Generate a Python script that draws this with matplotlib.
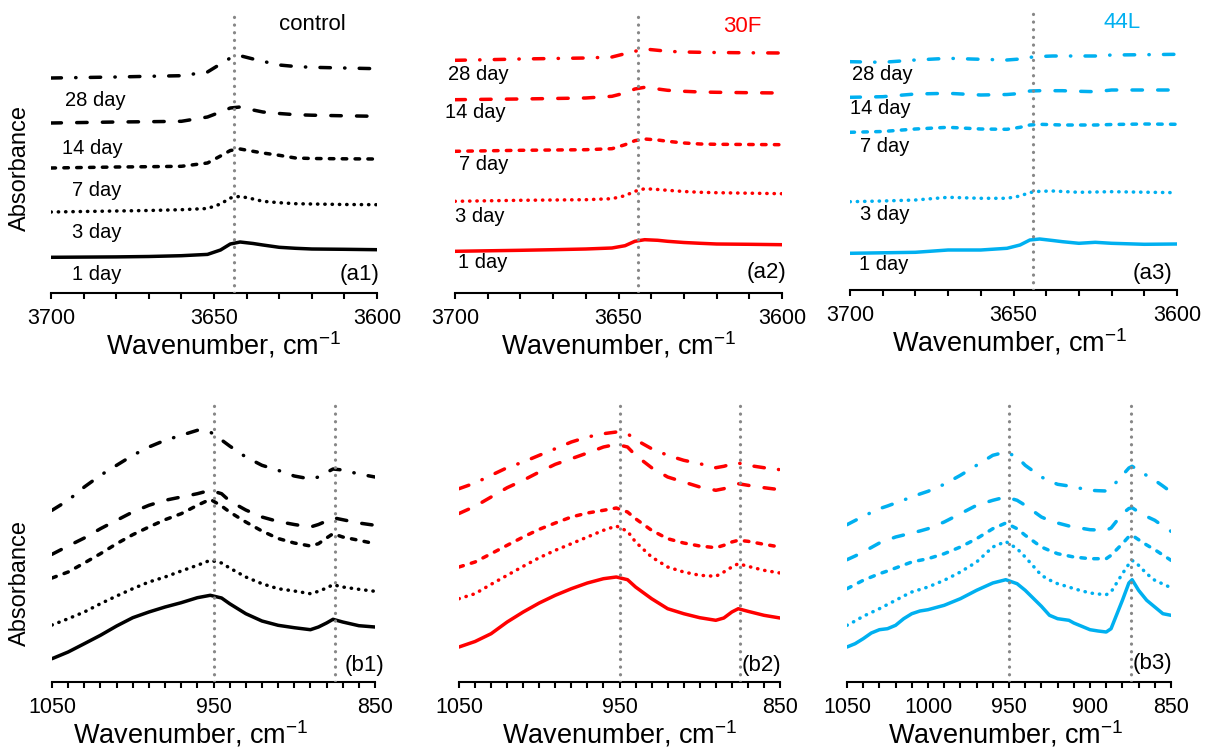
import numpy as np
import matplotlib
matplotlib.use("Agg")
import matplotlib.pyplot as plt

plt.rcParams['font.family'] = ['Liberation Sans', 'DejaVu Sans']
plt.rcParams['mathtext.fontset'] = 'custom'
plt.rcParams['mathtext.rm'] = 'Liberation Sans'

# Wavenumber grids (cm-1)
wn_oh = [3700, 3690, 3680, 3670, 3660, 3652, 3648, 3645, 3642, 3638,
         3635, 3630, 3625, 3620, 3610, 3600]
wn_si = [1050, 1040, 1030, 1020, 1010, 1000, 990, 980, 970, 960, 952, 945,
         940, 930, 920, 910, 900, 890, 885, 880, 876, 870, 860, 850]
wn_si_44l = [1050, 1045, 1040, 1035, 1030, 1025, 1020, 1015, 1010, 1005,
             1000, 990, 980, 970, 960, 952, 945, 940, 930, 925, 920, 913,
             910, 900, 895, 890, 887, 880, 876, 874, 870, 865, 860, 855, 850]

days = ['1 day', '3 day', '7 day', '14 day', '28 day']
samples = ['control', '30F', '44L']

# OH region, offset absorbance (arbitrary units)
oh_control = [
    [35.7, 35.9, 36.1, 36.5, 37.3, 38.6, 43, 49, 51, 49.5, 48, 45.7, 44.7, 44, 43.7, 43.3],
    [81, 81.5, 82, 82.5, 83.3, 84.5, 89, 95, 96.7, 94, 91.7, 90.3, 89.3, 89, 88.5, 88.3],
    [125, 125.5, 126, 126.3, 126.7, 130, 137, 142.5, 144, 141.7, 140, 137.7, 135, 134.5, 134.2, 134],
    [170, 170.5, 171, 171.3, 171.7, 176, 181, 185, 186, 183, 181, 179.5, 178.3, 177.8, 177.2, 176.7],
    [215, 215.5, 216, 216.7, 217.3, 221, 229, 235, 237.3, 234, 231.7, 228, 226.5, 225.7, 225, 224.3],
]
oh_30f = [
    [41.7, 42.2, 42.7, 43.3, 44, 45, 47.3, 51.7, 53.3, 52.7, 51.7, 50.5, 49.7, 49, 48.7, 48.3],
    [91.7, 92.2, 92.7, 93, 93.3, 94.3, 97.3, 101.7, 104.3, 103.5, 102.7, 101.5, 100.7, 100.3, 99.8, 99.3],
    [141.7, 142.2, 142.7, 143, 143.3, 144.3, 148.3, 152.3, 154, 153, 151.7, 150, 149, 148.7, 148.5, 148.3],
    [193.3, 193.7, 194, 194.5, 195, 196.7, 200, 204, 205.7, 204, 202.7, 201.7, 201, 200.7, 200.3, 200],
    [232.7, 233.3, 234, 234.5, 235, 236, 239.3, 241.7, 244, 242.7, 241.7, 241, 240.7, 240.5, 240.2, 240],
]
oh_44l = [
    [36.7, 37.2, 37.7, 40, 40, 41.7, 45, 50, 51, 49.5, 48.3, 46.7, 47.7, 46.7, 45.7, 46],
    [88.3, 89, 90, 92.7, 91.7, 91.7, 94, 97.5, 98.7, 99, 98.5, 97.7, 98, 98.3, 97.8, 97.3],
    [157.7, 158.5, 161, 162.7, 161, 160.7, 162.7, 165, 165.7, 165.3, 165, 165, 165, 165.5, 166, 165.7],
    [192.7, 193.3, 196, 196.7, 195, 195.5, 196.5, 199, 199.3, 199.3, 199.3, 198.7, 198.3, 200, 200, 200],
    [228.3, 227.7, 230, 231.7, 230.7, 230, 231, 232.7, 233.5, 234, 234, 234, 234, 235, 235.3, 235.7],
]

# Si-O region, offset absorbance (arbitrary units)
si_control = [
    [23.3, 30, 38.3, 46.7, 56, 64.3, 70, 75, 79.3, 84.3, 86.7, 84, 78.3, 68.3, 61, 56.7, 54.3, 52.3, 55, 59, 62.7, 60, 56.3, 55],
    [57, 63.3, 70, 78.3, 86, 93.3, 100, 105, 111, 116.7, 121.7, 119, 114, 105, 98.3, 93.3, 91, 88.3, 90.7, 94, 97.3, 95, 92.7, 90.7],
    [104, 110, 119, 128.3, 138.3, 147.3, 155, 162.3, 168.3, 176.7, 182.7, 176, 170, 160, 151, 143.5, 139, 136, 138.3, 144, 148.3, 145, 141.7, 138.3],
    [127.7, 136, 144, 153.3, 161.7, 170, 176.7, 181.7, 185, 188.3, 191.7, 188.3, 181, 172, 165, 160.5, 157.5, 155, 157.5, 161, 164.3, 162.3, 159, 156.7],
    [171.7, 181.7, 195, 206.7, 216.7, 226.7, 235, 241.7, 246.7, 251.7, 250, 242, 236, 225, 216.7, 211.7, 206, 203, 205, 209.5, 213, 212, 208, 205],
]
si_30f = [
    [35, 40.5, 48.3, 60, 70, 79, 86.7, 93.3, 99, 103.3, 105, 102.3, 95, 83.3, 73.3, 68.3, 64.3, 61.7, 64, 70, 73.3, 70.7, 66.7, 64],
    [83.3, 88.3, 97.7, 106.7, 115.7, 124.3, 131.7, 138.3, 145, 151.7, 156, 150.7, 140, 125, 115, 110, 106.7, 105.7, 110, 115, 118.3, 115.7, 111.7, 109],
    [115, 120, 128.3, 136.7, 145, 152.7, 159, 165, 169, 171.7, 174, 170, 163.3, 151.7, 143.3, 139, 136, 134.3, 136.7, 140, 141.7, 140.7, 137.7, 135],
    [168.5, 175.7, 185, 194.3, 201.7, 210, 217.7, 223.3, 229, 235, 237.7, 235, 226.7, 214.3, 205, 200, 195, 191.7, 193.3, 196, 198.3, 196.7, 194.3, 192.3],
    [193.3, 199, 206.7, 214.3, 220, 226.7, 233.3, 240, 245, 248.3, 250, 248.3, 242.3, 233.3, 226.7, 221.7, 218.3, 214.3, 215.7, 218, 219, 216.7, 214.3, 212.3],
]
si_44l = [
    [35, 38.3, 43.3, 49, 52.3, 53.3, 56.7, 63.3, 68.3, 71, 72.3, 76.7, 83.3, 91.7, 99, 102.3, 98.3, 91.7, 75.7, 66.7, 63.3, 61.7, 59, 52.3, 51, 50, 53.3, 81.7, 99, 102.3, 91.7, 81.7, 75, 68.3, 66.7],
    [56.7, 61, 65.7, 69.5, 73.3, 77.5, 81.7, 86, 90, 92.5, 95, 101.7, 110, 120, 135, 140.5, 133.3, 125, 106.7, 102, 98.3, 95, 93.3, 89, 88, 87.3, 90, 108.3, 118, 121.7, 116.7, 108.3, 101.7, 98, 94.3],
    [93.3, 97.5, 101.7, 105, 108.3, 111, 114, 117, 120, 121.7, 123.3, 128.3, 135, 143.3, 153.3, 159, 153.3, 146.7, 135, 131.5, 128.3, 126, 125, 123.3, 123.3, 123.3, 126.7, 138.3, 145.5, 146.7, 142.3, 137, 132.3, 127, 121.7],
    [122.3, 126, 130, 134.5, 139, 142, 145, 147, 149, 151, 153.3, 160, 168.3, 176.7, 181.7, 185, 181.7, 176.7, 165, 161.5, 159, 156, 155, 152.3, 152, 151.7, 154, 168.3, 173.5, 174.3, 170, 165.5, 161.7, 156, 150.7],
    [157.3, 161.5, 165.7, 169.5, 173.3, 176, 179, 182, 185, 188, 190.7, 197.7, 206.7, 216.7, 226.7, 230, 225, 216.7, 205, 201, 197.7, 196, 195, 191.7, 191.3, 191, 194, 206.7, 214, 215.7, 211.7, 206.5, 201.7, 196, 190],
]

# reference band positions
oh_band = 3644
si_bands = [950, 875]

# ---- styling ----
W, H = 1211, 751
COLORS = ['black', '#FF0000', '#00B0F0']
LW = 2.5
DASHES = {'1 day': None,
          '3 day': (0.1, 2.0),
          '7 day': (1.3, 2.4),
          '14 day': (3.0, 4.4),
          '28 day': (3.0, 4.1, 0.1, 4.1)}

fig = plt.figure(figsize=(W / 100, H / 100), dpi=100)


def px_axes(left, top, right, bottom):
    """Add axes placed with pixel edges (origin top-left)."""
    return fig.add_axes([left / W, 1 - bottom / H, (right - left) / W, (bottom - top) / H])


def style_axes(ax, xlim, major, minor, label_x=0.5):
    ax.set_xlim(*xlim)
    ax.set_ylim(0, ax.get_position().height * H)
    ax.set_yticks([])
    for side in ['left', 'top', 'right']:
        ax.spines[side].set_visible(False)
    ax.spines['bottom'].set_linewidth(1.5)
    ax.set_xticks(major)
    ax.set_xticks(minor, minor=True)
    ax.tick_params(axis='x', which='both', direction='out', length=4.5, width=1.5,
                   labelsize=15.5, pad=6)
    ax.set_xlabel('Wavenumber, cm$^{\\mathregular{-1}}$', fontsize=19.5, labelpad=1)
    ax.xaxis.label.set_x(label_x)
    ax.patch.set_alpha(0)


def draw_curves(ax, x, curves, color):
    for day, y in zip(days, curves):
        line, = ax.plot(x, y, color=color, lw=LW, solid_capstyle='round',
                        dash_capstyle='round', solid_joinstyle='round')
        if DASHES[day] is not None:
            line.set_dashes(DASHES[day])


def band_line(ax, x):
    ax.axvline(x, color='#878787', lw=2.3, linestyle=(0, (0.05, 2.35)),
               dash_capstyle='round', zorder=5)


# ---- OH stretching panels ----
top_axes = [px_axes(51, 12, 377, 293), px_axes(455, 12, 782, 293), px_axes(850, 12, 1177, 290)]
oh_data = [oh_control, oh_30f, oh_44l]
top_label_x = [0.53, 0.5, 0.49]
for ax, curves, color, lx in zip(top_axes, oh_data, COLORS, top_label_x):
    style_axes(ax, (3700, 3600), [3700, 3650, 3600], np.arange(3600, 3701, 10), lx)
    draw_curves(ax, wn_oh, curves, color)
    band_line(ax, oh_band)

# day labels (x, y) in data units for each OH panel
day_pos = [
    [(3693.6, 18), (3693.6, 61), (3693.6, 103), (3696.6, 145), (3695.7, 193)],
    [(3699, 30), (3700, 76), (3698.8, 129), (3703, 180), (3702, 219)],
    [(3697.2, 26), (3697, 75), (3697, 143), (3700, 181), (3699.4, 216)],
]
title_pos = [(3630, 268), (3618, 266), (3622.6, 268)]
tag_pos = [(3599.1, 18), (3598.8, 20), (3601.5, 16)]
for i, ax in enumerate(top_axes):
    for day, (x, y) in zip(days, day_pos[i]):
        ax.text(x, y, day, fontsize=14.5, ha='left', va='center')
    ax.text(*title_pos[i], samples[i], fontsize=16, color=COLORS[i], ha='left', va='center')
    ax.text(*tag_pos[i], '(a%d)' % (i + 1), fontsize=16, ha='right', va='center')

# ---- Si-O panels ----
bot_axes = [px_axes(52, 403, 375, 682), px_axes(459, 403, 780, 682), px_axes(847, 403, 1171, 682)]
si_x = [wn_si, wn_si, wn_si_44l]
si_data = [si_control, si_30f, si_44l]
si_major = [[1050, 950, 850], [1050, 950, 850], [1050, 1000, 950, 900, 850]]
bot_label_x = [0.43, 0.5, 0.49]
tag_pos_b = [(844, 17), (849, 17), (849, 19)]
for i, ax in enumerate(bot_axes):
    style_axes(ax, (1050, 850), si_major[i], np.arange(850, 1051, 10), bot_label_x[i])
    draw_curves(ax, si_x[i], si_data[i], COLORS[i])
    for b in si_bands:
        band_line(ax, b)
    ax.text(*tag_pos_b[i], '(b%d)' % (i + 1), fontsize=16, ha='right', va='center')

fig.text(20 / W, 1 - 168 / H, 'Absorbance', rotation=90, fontsize=17, ha='center', va='center')
fig.text(20 / W, 1 - 583 / H, 'Absorbance', rotation=90, fontsize=17, ha='center', va='center')

fig.savefig('out.png', dpi=100)
